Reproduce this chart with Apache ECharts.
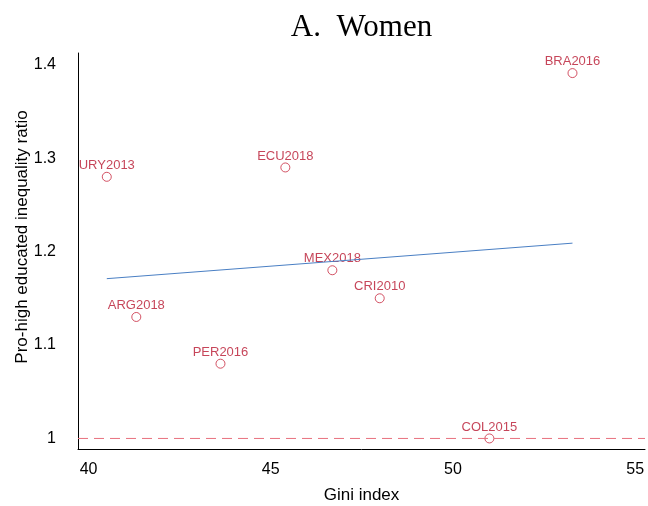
<!DOCTYPE html>
<html>
<head>
<meta charset="utf-8">
<script src="https://cdn.jsdelivr.net/npm/echarts@6/dist/echarts.min.js"></script>
<style>html,body{margin:0;padding:0;background:#fff}#c{width:648px;height:506px}</style>
</head>
<body>
<div id="c"></div>
<script>
const countries = ["URY2013","ARG2018","PER2016","ECU2018","MEX2018","CRI2010","COL2015","BRA2016"];
const gini = [40.5, 41.31, 43.62, 45.40, 46.69, 47.99, 51.0, 53.28];
const ratio = [1.28, 1.13, 1.08, 1.29, 1.18, 1.15, 1.00, 1.391];
const fitLine = [[40.5, 1.171], [53.28, 1.209]];
const xTicks = [40, 45, 50, 55];
const yTicks = [1, 1.1, 1.2, 1.3, 1.4];
const xRange = [39.71, 55.27];
const yRange = [0.9887, 1.4125];
const refY = 1;

const chart = echarts.init(document.getElementById('c'), null, {renderer: 'canvas'});
const pts = gini.map((g, i) => ({value: [g, ratio[i]], name: countries[i]}));
const red = '#b8162f';
chart.setOption({
  animation: false,
  backgroundColor: '#fff',
  grid: {left: 78, right: 3, top: 53, bottom: 57, outerBoundsMode: 'none', containLabel: false},
  xAxis: {
    type: 'value', min: xRange[0], max: xRange[1],
    name: 'Gini index', nameLocation: 'middle', nameGap: 38,
    nameTextStyle: {fontFamily: 'Liberation Sans', fontSize: 17, color: '#000'},
    axisLine: {show: true, lineStyle: {color: '#000', width: 1}},
    axisTick: {show: false},
    splitLine: {show: false},
    axisLabel: {customValues: xTicks, fontFamily: 'Liberation Sans', fontSize: 16, color: '#000', margin: 13}
  },
  yAxis: {
    type: 'value', min: yRange[0], max: yRange[1],
    axisLine: {show: true, lineStyle: {color: '#000', width: 1}},
    axisTick: {show: false},
    splitLine: {show: false},
    axisLabel: {customValues: yTicks, fontFamily: 'Liberation Sans', fontSize: 16, color: '#000', margin: 22}
  },
  graphic: [{
    type: 'text', x: 22, y: 237, rotation: Math.PI / 2,
    style: {text: 'Pro-high educated inequality ratio', fontFamily: 'Liberation Sans', fontSize: 17,
      fill: '#000', textAlign: 'center', textVerticalAlign: 'middle'}
  }, {
    type: 'text', x: 361.5, y: 28,
    style: {text: 'A.  Women', fontFamily: 'Liberation Serif', fontSize: 31,
      fill: '#000', textAlign: 'center', textVerticalAlign: 'middle'}
  }],
  series: [
    {
      type: 'line', data: [[xRange[0], refY], [xRange[1], refY]], symbol: 'none', silent: true,
      lineStyle: {color: '#e8707e', type: [10, 6], width: 1}
    },
    {
      type: 'line', data: fitLine, symbol: 'none', silent: true,
      lineStyle: {color: '#4a7fc4', width: 1}
    },
    {
      type: 'scatter', data: pts, symbol: 'circle', symbolSize: 9,
      itemStyle: {color: '#fff', borderColor: '#c8283f', borderWidth: 1},
      label: {show: true, position: 'top', distance: 0, formatter: p => p.name,
        fontFamily: 'Liberation Sans', fontSize: 13, color: red}
    }
  ]
});
</script>
</body>
</html>
